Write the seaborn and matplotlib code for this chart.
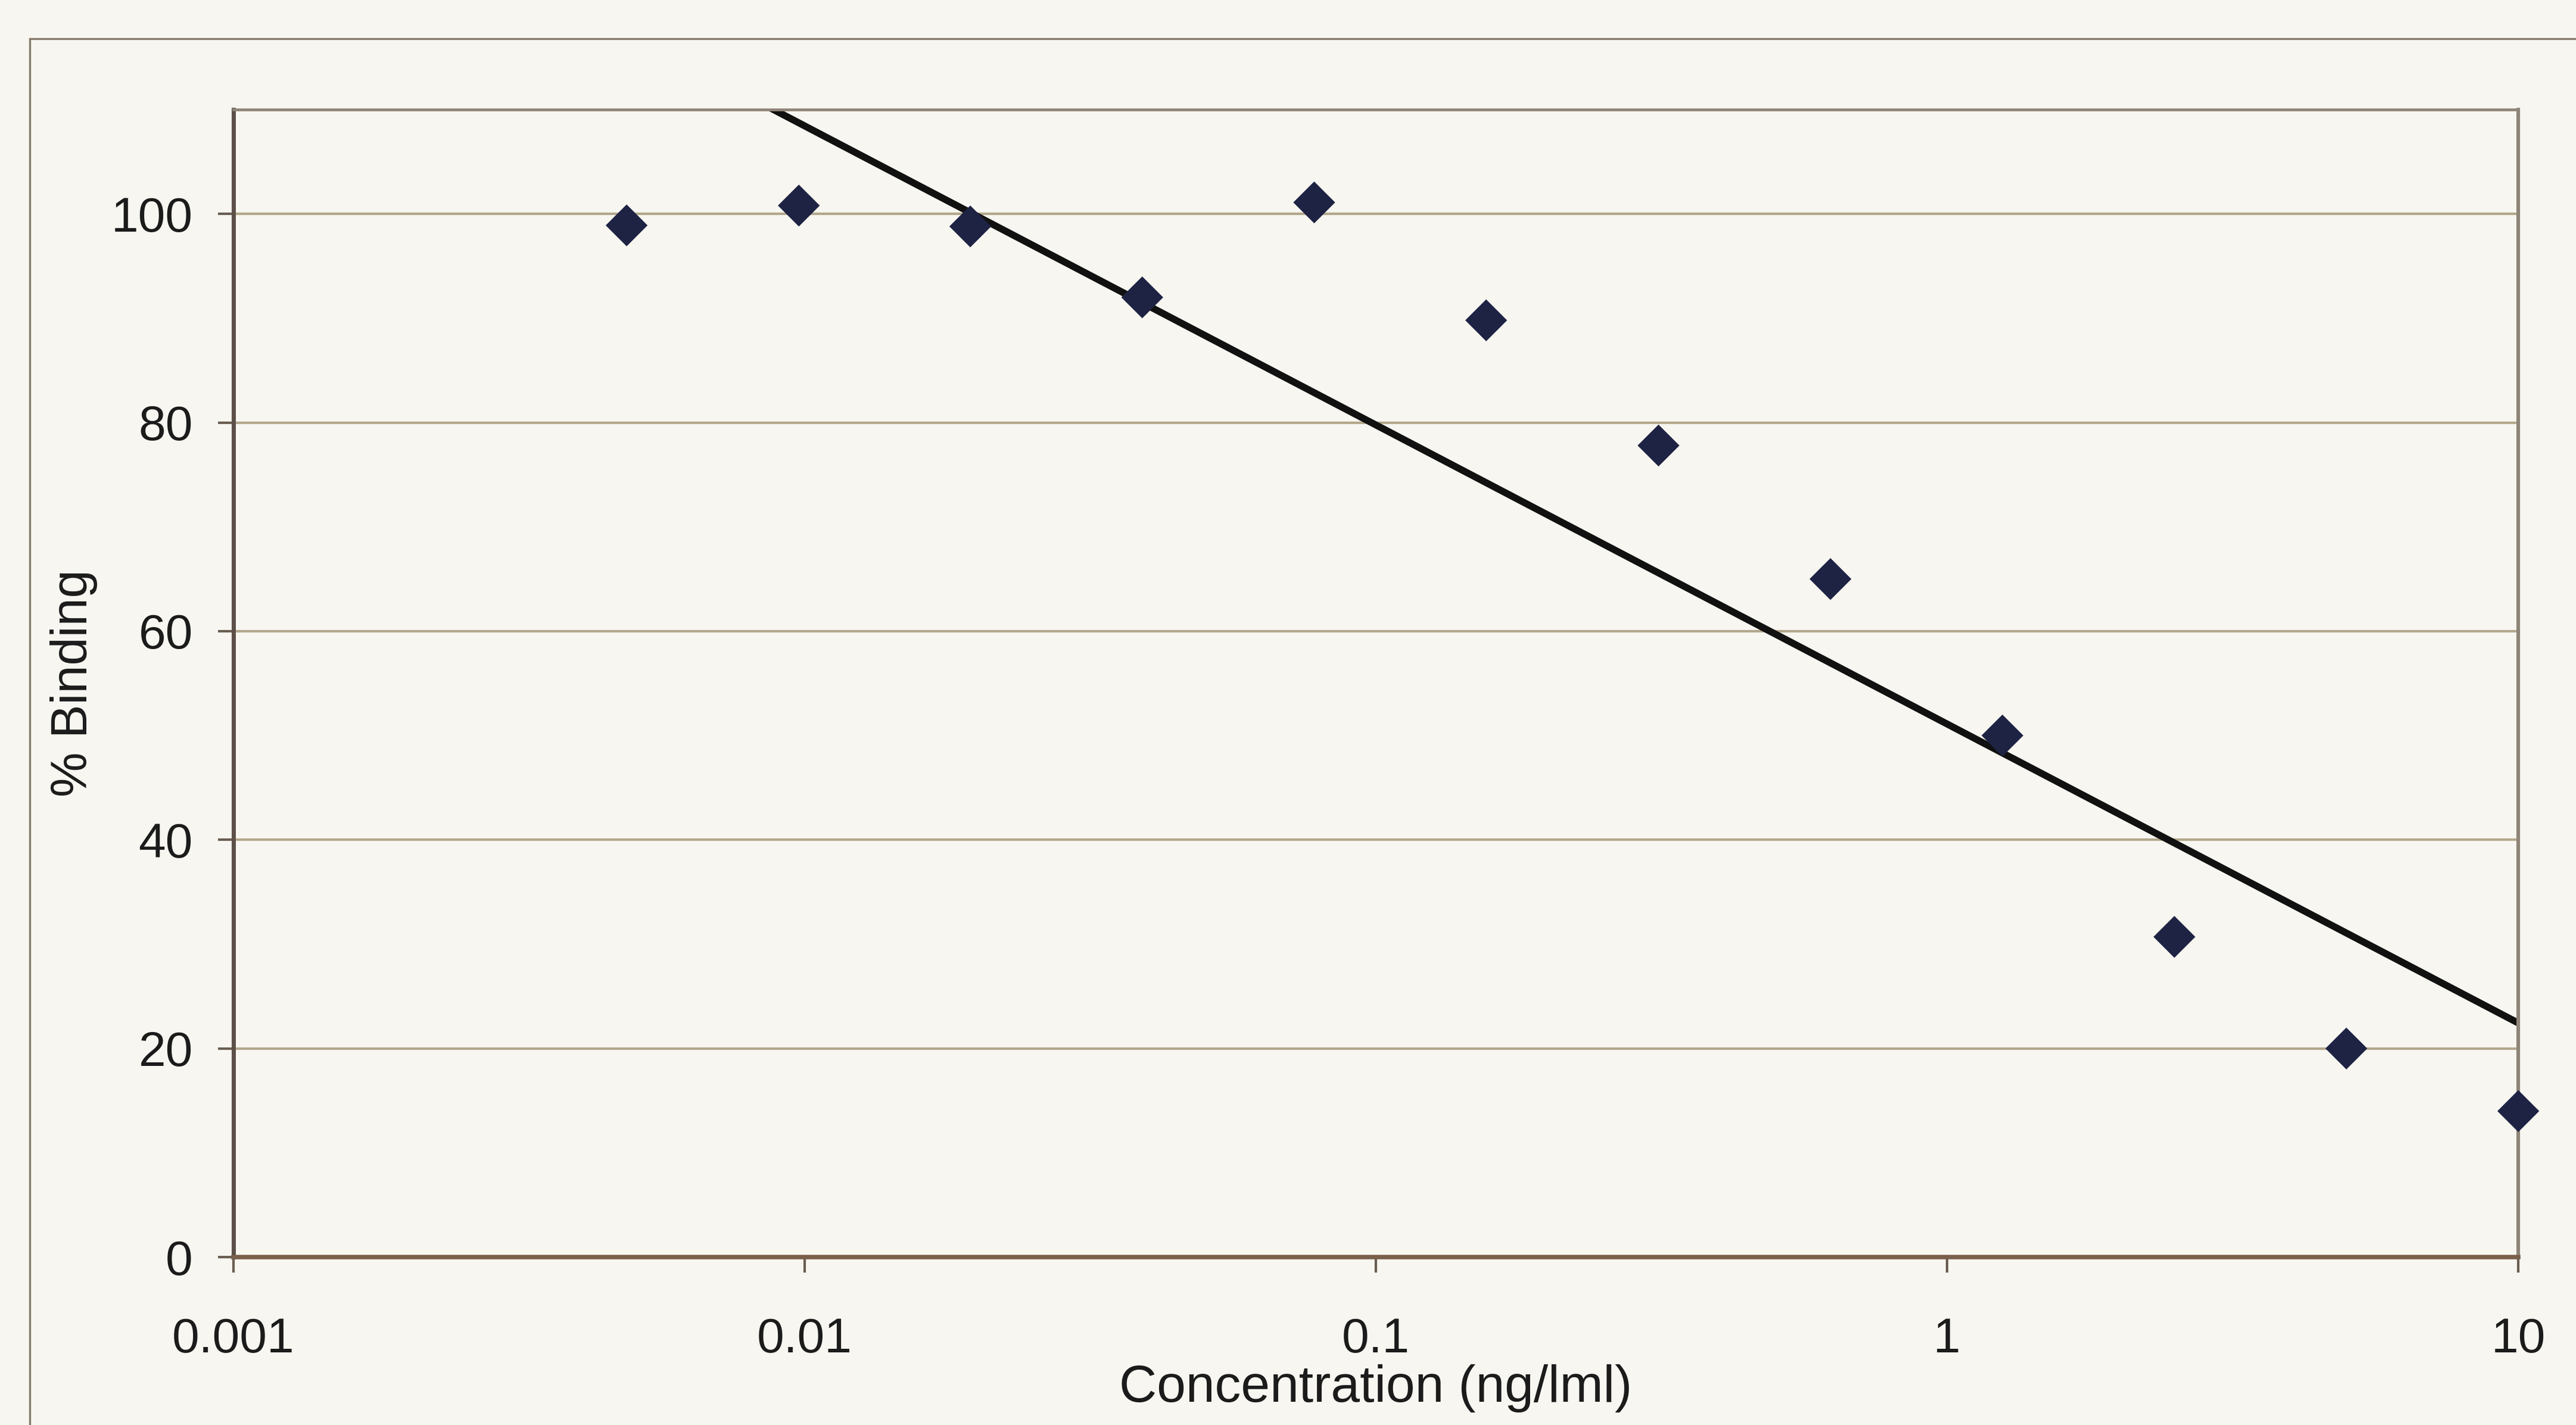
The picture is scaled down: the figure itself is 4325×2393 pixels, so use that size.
import numpy as np
import pandas as pd
import matplotlib
matplotlib.use("Agg")
import matplotlib.pyplot as plt
from matplotlib.patches import Rectangle
from matplotlib.ticker import NullLocator
import seaborn as sns

# valori (diluizioni seriali 1:2)
concentration = [0.00488, 0.00977, 0.0195, 0.039, 0.078, 0.156, 0.3125, 0.625, 1.25, 2.5, 5, 10]
binding = [98.9, 100.8, 98.8, 92.0, 101.1, 89.8, 77.8, 65.0, 50.0, 30.7, 20.0, 14.0]

x_ticks = [0.001, 0.01, 0.1, 1, 10]
x_tick_labels = ['0.001', '0.01', '0.1', '1', '10']
y_ticks = [0, 20, 40, 60, 80, 100]

df = pd.DataFrame({'conc': concentration, 'binding': binding})

sns.set_theme(style="white")
plt.rcParams['font.family'] = ['Liberation Sans', 'DejaVu Sans']

paper = '#f7f6f0'
fig = plt.figure(figsize=(21.625, 11.965), dpi=200, facecolor=paper)
ax = fig.add_axes([0.0906, 0.1178, 0.8870, 0.8053])
ax.set_facecolor(paper)
ax.set_xscale('log')

# linea di tendenza logaritmica + punti
sns.regplot(data=df, x='conc', y='binding', logx=True, ci=None, scatter=False, truncate=True,
            line_kws=dict(color='#111111', lw=4.2), ax=ax)
sns.scatterplot(data=df, x='conc', y='binding', marker='D', s=320, color='#1e2344',
                edgecolor='none', ax=ax, zorder=4)
# i punti sul bordo non vanno tagliati
for coll in ax.collections:
    coll.set_clip_on(False)

ax.set_xlim(0.001, 10)
ax.set_ylim(0, 110)
ax.set_xticks(x_ticks)
ax.set_xticklabels(x_tick_labels)
ax.xaxis.set_minor_locator(NullLocator())
ax.set_yticks(y_ticks)

# griglia orizzontale
ax.set_axisbelow(True)
ax.yaxis.grid(True, color='#b3a88c', lw=1.5)
ax.xaxis.grid(False)

ax.tick_params(axis='both', which='major', direction='out', length=9.5, width=1.5,
               color='#6a5e52', labelsize=29.5, labelcolor='#1b1b1b', bottom=True, left=True)
ax.tick_params(axis='x', pad=27)
ax.tick_params(axis='y', pad=15)

ax.spines['left'].set_color('#5c5048')
ax.spines['left'].set_linewidth(2.5)
ax.spines['bottom'].set_color('#7a5f4a')
ax.spines['bottom'].set_linewidth(2.7)
ax.spines['top'].set_color('#8f8578')
ax.spines['top'].set_linewidth(1.7)
ax.spines['right'].set_color('#8f8578')
ax.spines['right'].set_linewidth(2.2)

ax.set_xlabel('Concentration (ng/lml)', fontsize=31.5, color='#1b1b1b', labelpad=1)
ax.set_ylabel('% Binding', fontsize=30.5, color='#1b1b1b', labelpad=8)

# bordo esterno dell'area del grafico
fig.add_artist(Rectangle((50 / 4325, -0.2), 1.5, 1 - 65 / 2393 + 0.2, transform=fig.transFigure,
                         fill=False, edgecolor='#857a6c', lw=1.2, clip_on=False))

fig.savefig('out.png', dpi=200, facecolor=paper)
